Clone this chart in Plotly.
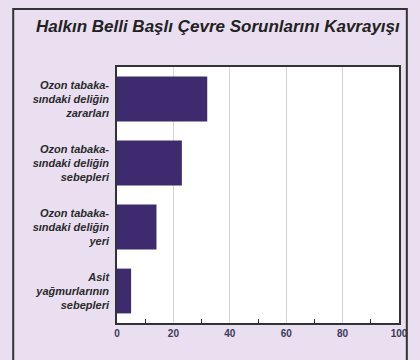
import plotly.graph_objects as go

categories = [
    "Ozon tabaka-<br>sındaki deliğin<br>zararları",
    "Ozon tabaka-<br>sındaki deliğin<br>sebepleri",
    "Ozon tabaka-<br>sındaki deliğin<br>yeri",
    "Asit<br>yağmurlarının<br>sebepleri",
]
values = [32, 23, 14, 5]
x_ticks = [0, 20, 40, 60, 80, 100]
title_text = "Halkın Belli Başlı Çevre Sorunlarını Kavrayışı"

L, R, T, B = 117, 405, 67, 323
W, H = 420, 360
pw, ph = R - L, B - T

def px(x):
    return (x - L) / pw

def py(y):
    return (B - y) / ph

FONT = "Liberation Sans, Arial, sans-serif"

fig = go.Figure(go.Bar(
    x=values, y=categories, orientation="h",
    marker=dict(color="#3e2a6e", line=dict(width=0)),
))

fig.update_layout(
    width=W, height=H,
    margin=dict(l=L, r=W - R, t=T, b=H - B),
    paper_bgcolor="#e9dff0",
    plot_bgcolor="#ffffff",
    bargap=0.3,
    showlegend=False,
    font=dict(family=FONT, color="#2a2a3a"),
    xaxis=dict(
        range=[0, 100], tickvals=x_ticks, ticks="",
        showgrid=True, gridcolor="#d4d4d4", gridwidth=1,
        zeroline=False, showline=True, linecolor="#333333", linewidth=1.5,
        mirror=True,
        minor=dict(tick0=10, dtick=20, ticks="inside", ticklen=4,
                   tickcolor="#333333", showgrid=False),
        tickfont=dict(size=10, family=FONT, color="#3a3a5a", weight="bold"),
    ),
    yaxis=dict(
        autorange="reversed", ticks="", showgrid=False,
        showline=True, linecolor="#333333", linewidth=1.5, mirror=True,
        tickfont=dict(size=11, family=FONT, color="#2a2a2a", weight="bold", style="italic"),
        ticklabelstandoff=4,
    ),
    shapes=[
        dict(type="rect", xref="paper", yref="paper",
             x0=px(11), x1=px(413), y0=py(9), y1=py(362),
             line=dict(color="#333333", width=2), fillcolor="rgba(0,0,0,0)",
             layer="below"),
    ],
    annotations=[
        dict(text=title_text, xref="paper", yref="paper",
             x=px(32), y=py(26), xanchor="left", yanchor="middle", showarrow=False,
             font=dict(size=17, color="#222222", family=FONT, weight="bold", style="italic")),
    ],
)

fig.write_html("out.html")
